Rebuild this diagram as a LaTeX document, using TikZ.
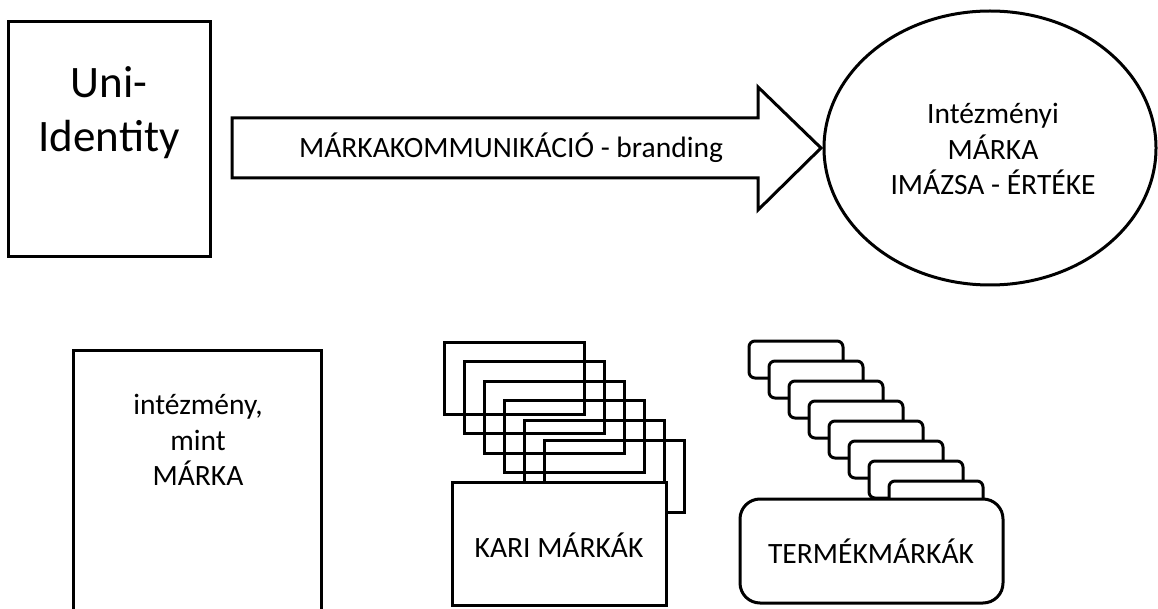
\documentclass[tikz,border=0pt]{standalone}
\usepackage{fontspec}
\setmainfont{Carlito}
\begin{document}
\begin{tikzpicture}[x=1pt,y=-1pt,line width=3pt,
  txt/.style={align=center,font=\fontsize{29.5}{35.5}\selectfont},
  card/.style={fill=white,rounded corners=6pt}]
      \useasboundingbox (0,0) rectangle (1158,609);
      \clip (0,0) rectangle (1158,609);

      % Uni-Identity
      \draw (8,22) rectangle (210,257);
      \node[align=center,font=\fontsize{45}{54}\selectfont] (uni) at (109,113) {Uni-\\Identity};

      % nyil
      \draw[line join=miter] (232,118) -- (758,118) -- (758,87) -- (821,148)
        -- (758,210) -- (758,178) -- (232,178) -- cycle;
      \node[txt] (komm) at (511,148) {MÁRKAKOMMUNIKÁCIÓ - branding};

      % ellipszis
      \draw (990,148) ellipse (166 and 137);
      \node[txt] (imazs) at (993,149) {Intézményi\\MÁRKA\\IMÁZSA - ÉRTÉKE};

      % intezmeny
      \draw (73,350) rectangle (321,620);
      \node[txt] (intez) at (198,440) {intézmény,\\mint\\MÁRKA};

      % kari markak
      \foreach \i in {0,1,...,5} {
        \draw (444+20*\i, 342+19.6*\i) rectangle +(140,72);
      }
      \draw[fill=white] (452,482) rectangle (666,605);
      \node[txt] (kari) at (559,545) {KARI MÁRKÁK};

      % termekmarkak
      \foreach \i in {0,1,...,7} {
        \draw[card] (749+20*\i, 341+20*\i) rectangle +(94,37);
      }
      \draw[fill=white,rounded corners=20pt] (740,499) rectangle (1003,603);
      \node[txt] (termek) at (871,551) {TERMÉKMÁRKÁK};
\end{tikzpicture}
\end{document}
